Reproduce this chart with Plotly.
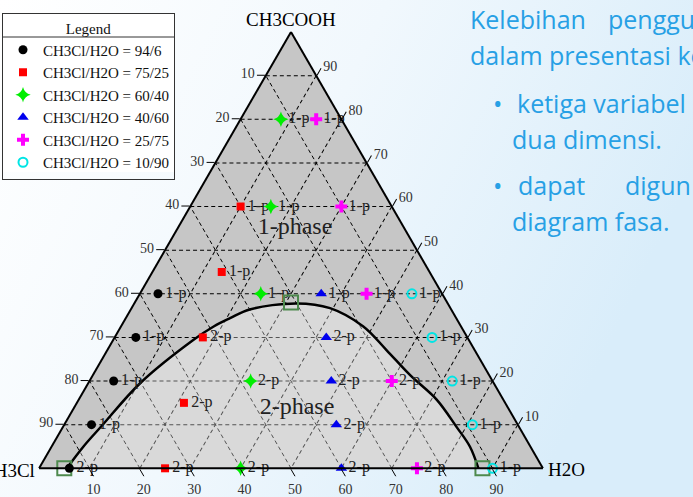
import base64
import plotly.graph_objects as go

W, H = 693, 497

# ---------------- data ----------------
series_names = [
    "CH3Cl/H2O = 94/6",
    "CH3Cl/H2O = 75/25",
    "CH3Cl/H2O = 60/40",
    "CH3Cl/H2O = 40/60",
    "CH3Cl/H2O = 25/75",
    "CH3Cl/H2O = 10/90",
]

# CH3COOH / CH3Cl / H2O (mass %) of each measured mixture
acid_9406 = [0, 10, 20, 30, 40]
ch3cl_9406 = [94, 84.6, 75.2, 65.8, 56.4]
water_9406 = [6, 5.4, 4.8, 4.2, 3.6]
phase_9406 = ["2-p", "1-p", "1-p", "1-p", "1-p"]

acid_7525 = [0, 15, 30, 45, 60]
ch3cl_7525 = [75, 63.75, 52.5, 41.25, 30]
water_7525 = [25, 21.25, 17.5, 13.75, 10]
phase_7525 = ["2-p", "2-p", "2-p", "1-p", "1-p"]

acid_6040 = [0, 20, 40, 60, 80]
ch3cl_6040 = [60, 48, 36, 24, 12]
water_6040 = [40, 32, 24, 16, 8]
phase_6040 = ["2-p", "2-p", "1-p", "1-p", "1-p"]

acid_4060 = [0, 10, 20, 30, 40]
ch3cl_4060 = [40, 36, 32, 28, 24]
water_4060 = [60, 54, 48, 42, 36]
phase_4060 = ["2-p", "2-p", "2-p", "2-p", "1-p"]

acid_2575 = [0, 20, 40, 60, 80]
ch3cl_2575 = [25, 20, 15, 10, 5]
water_2575 = [75, 60, 45, 30, 15]
phase_2575 = ["2-p", "2-p", "1-p", "1-p", "1-p"]

acid_1090 = [0, 10, 20, 30, 40]
ch3cl_1090 = [10, 9, 8, 7, 6]
water_1090 = [90, 81, 72, 63, 54]
phase_1090 = ["1-p", "1-p", "1-p", "1-p", "1-p"]

# binodal (phase boundary) curve
binodal_acid = [0, 4.95, 9.8, 19.5, 29.4, 32.5, 34.4, 36.4, 37.8, 36.7, 32.5,
                27.1, 21.4, 15.7, 9.5, 5.0, 0]
binodal_water = [5.5, 6.3, 7.6, 10.3, 15.9, 18.4, 20.7, 23.6, 32.2, 39.4, 48.1,
                 55.4, 62.9, 71.1, 78.1, 83.0, 87.2]
binodal_ch3cl = [94.5, 88.75, 82.6, 70.2, 54.7, 49.1, 44.9, 40.0, 30.0, 23.9, 19.4,
                 17.5, 15.7, 13.2, 12.4, 12.0, 12.8]

# special points (curve ends and plait point)
special_acid = [0, 38, 0]
special_ch3cl = [95, 31, 12]
special_water = [5, 31, 88]

region_names = ["1-phase", "2-phase"]
region_acid = [55, 13.8]
region_ch3cl = [21.7, 41.9]
region_water = [23.3, 44.3]

tick_values = [10, 20, 30, 40, 50, 60, 70, 80, 90]
tick_labels = ["90", "80", "70", "60", "50", "40", "30", "20", "10"]

# ---------------- styles ----------------
SERIF = "Liberation Serif, Times New Roman, serif"
styles = [
    dict(symbol="circle", size=9, color="#000000"),
    dict(symbol="square", size=8, color="#ff0000"),
    dict(symbol="star-diamond", size=11, color="#00ee00"),
    dict(symbol="triangle-up", size=10, color="#0000ee"),
    dict(symbol="cross", size=10, color="#ff00ff"),
    dict(symbol="circle-open", size=9, color="#00e5e5", line=dict(width=2, color="#00e5e5")),
]
data_sets = [
    (acid_9406, ch3cl_9406, water_9406, phase_9406),
    (acid_7525, ch3cl_7525, water_7525, phase_7525),
    (acid_6040, ch3cl_6040, water_6040, phase_6040),
    (acid_4060, ch3cl_4060, water_4060, phase_4060),
    (acid_2575, ch3cl_2575, water_2575, phase_2575),
    (acid_1090, ch3cl_1090, water_1090, phase_1090),
]

fig = go.Figure()

# two-phase region (lighter) + binodal curve
fig.add_trace(go.Scatterternary(
    a=binodal_acid, b=binodal_ch3cl, c=binodal_water,
    mode="lines", fill="toself", fillcolor="rgba(255,255,255,0.33)",
    line=dict(color="#000000", width=2.5, shape="spline", smoothing=1),
    showlegend=False, hoverinfo="skip",
))

# phase labels on points
for (a, b, c, ph), st in zip(data_sets, styles):
    fig.add_trace(go.Scatterternary(
        a=a, b=b, c=c, text=ph, mode="markers+text",
        marker=dict(size=10, opacity=0),
        textposition="middle right",
        textfont=dict(family=SERIF, size=16, color="#222222"),
        cliponaxis=False, showlegend=False, hoverinfo="skip",
    ))

# special points
fig.add_trace(go.Scatterternary(
    a=special_acid, b=special_ch3cl, c=special_water, mode="markers",
    marker=dict(symbol="square-open", size=14, color="#4e8a4e", line=dict(width=2, color="#4e8a4e")),
    cliponaxis=False, showlegend=False, hoverinfo="skip",
))

# data markers (legend entries)
for (a, b, c, ph), st, nm in zip(data_sets, styles, series_names):
    fig.add_trace(go.Scatterternary(
        a=a, b=b, c=c, mode="markers", name=nm, marker=dict(st),
        cliponaxis=False,
    ))

# region names
fig.add_trace(go.Scatterternary(
    a=region_acid, b=region_ch3cl, c=region_water, text=region_names,
    mode="text", textposition="middle center",
    textfont=dict(family=SERIF, size=24, color="#222222"),
    showlegend=False, hoverinfo="skip",
))

axis_common = dict(
    title=dict(text=""),
    tickmode="array", tickvals=tick_values, ticktext=tick_labels,
    ticks="outside", ticklen=8, tickwidth=1, tickcolor="#000000",
    tickfont=dict(family=SERIF, size=14, color="#333333"),
    showline=True, linecolor="#000000", linewidth=2,
    showgrid=True, gridcolor="#000000", gridwidth=1.2, griddash="4px,3px",
    min=0,
)

svg = (
    "<svg xmlns='http://www.w3.org/2000/svg' width='693' height='497'>"
    "<defs><linearGradient id='g' x1='0' y1='0' x2='1' y2='0.35'>"
    "<stop offset='0' stop-color='#ffffff'/>"
    "<stop offset='0.5' stop-color='#f1f8fd'/>"
    "<stop offset='1' stop-color='#d9edfa'/>"
    "</linearGradient></defs>"
    "<rect width='693' height='497' fill='url(#g)'/></svg>"
)
bg_src = "data:image/svg+xml;base64," + base64.b64encode(svg.encode()).decode()

BLUE = "#27a0e5"
TXT = "Open Sans, Noto Sans, sans-serif"
FS = 25


def slide_text(txt, x, y):
    return dict(text=txt, x=x / W, y=1 - y / H, xanchor="left", yanchor="middle",
                font=dict(family=TXT, size=FS, color=BLUE))


annotations = [
    dict(text="CH3COOH", x=291 / W, y=1 - 19 / H, xanchor="center", yanchor="middle",
         font=dict(family=SERIF, size=19, color="#000")),
    dict(text="CH3Cl", x=37 / W, y=1 - 470 / H, xanchor="right", yanchor="middle",
         font=dict(family=SERIF, size=19, color="#000")),
    dict(text="H2O", x=546 / W, y=1 - 469 / H, xanchor="left", yanchor="middle",
         font=dict(family=SERIF, size=19, color="#000")),
    slide_text("Kelebihan", 468, 19),
    slide_text("penggu", 606, 19),
    slide_text("dalam presentasi ko", 468, 55),
    slide_text("•", 491, 103),
    slide_text("ketiga variabel", 515, 103),
    slide_text("dua dimensi.", 510, 139),
    slide_text("•", 491, 185),
    slide_text("dapat", 516, 185),
    slide_text("digun", 623, 185),
    slide_text("diagram fasa.", 510, 221),
]
for an in annotations:
    an.update(xref="paper", yref="paper", showarrow=False)

# legend box: white panel and the rule under its title
LX0, LX1, LY0, LY1 = 3, 174, 13, 172
shapes = [
    dict(type="rect", xref="paper", yref="paper",
         x0=LX0 / W, x1=LX1 / W, y0=1 - LY1 / H, y1=1 - LY0 / H,
         fillcolor="#ffffff", line=dict(width=0), layer="above"),
    dict(type="line", xref="paper", yref="paper",
         x0=LX0 / W, x1=LX1 / W, y0=1 - 37 / H, y1=1 - 37 / H,
         line=dict(color="#333333", width=1), layer="above"),
]

fig.update_layout(
    width=W, height=H,
    margin=dict(l=0, r=0, t=0, b=0),
    paper_bgcolor="#ffffff",
    images=[dict(source=bg_src, xref="paper", yref="paper", x=0, y=1, sizex=1, sizey=1,
                 xanchor="left", yanchor="top", sizing="stretch", layer="below")],
    ternary=dict(
        domain=dict(x=[39 / W, 543 / W], y=[28.7 / H, 465 / H]),
        sum=100,
        bgcolor="#c6c6c6",
        aaxis=axis_common,
        baxis=axis_common,
        caxis=axis_common,
    ),
    showlegend=True,
    legend=dict(
        x=2 / W, y=1 - 13 / H, xanchor="left", yanchor="top",
        bgcolor="rgba(0,0,0,0)", bordercolor="#333333", borderwidth=1,
        font=dict(family=SERIF, size=15, color="#111"),
        title=dict(text="Legend", side="top center", font=dict(family=SERIF, size=15, color="#111")),
        itemwidth=30, tracegroupgap=0,
    ),
    shapes=shapes,
    annotations=annotations,
)

fig.write_html("out.html")
